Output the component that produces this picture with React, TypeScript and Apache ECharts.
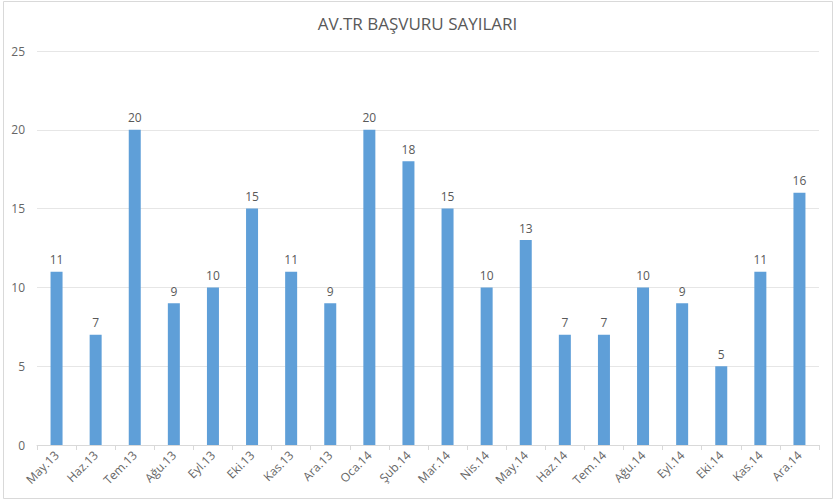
import React, { useEffect, useRef } from "react";
import * as echarts from "echarts";

const categories = [
  "May.13", "Haz.13", "Tem.13", "Ağu.13", "Eyl.13", "Eki.13", "Kas.13", "Ara.13",
  "Oca.14", "Şub.14", "Mar.14", "Nis.14", "May.14", "Haz.14", "Tem.14", "Ağu.14",
  "Eyl.14", "Eki.14", "Kas.14", "Ara.14",
];
const values = [11, 7, 20, 9, 10, 15, 11, 9, 20, 18, 15, 10, 13, 7, 7, 10, 9, 5, 11, 16];
const titleText = "AV.TR BAŞVURU SAYILARI";

const FONT = "'Open Sans', 'DejaVu Sans', sans-serif";

export default function App() {
  const ref = useRef<HTMLDivElement>(null);
  useEffect(() => {
    if (!ref.current) return;
    const chart = echarts.init(ref.current, undefined, { renderer: "svg" });
    chart.setOption({
      animation: false,
      backgroundColor: "#ffffff",
      title: {
        text: titleText,
        left: "center",
        top: 10,
        textStyle: { fontFamily: FONT, fontSize: 17, fontWeight: "normal", color: "#595959" },
      },
      graphic: [
        {
          type: "rect",
          shape: { x: 3.5, y: 1.5, width: 829, height: 497 },
          style: { fill: "none", stroke: "#d9d9d9", lineWidth: 1 },
          silent: true,
        },
      ],
      grid: { left: 37, right: 16, top: 51, bottom: 59, containLabel: false },
      xAxis: {
        type: "category",
        data: categories,
        axisLine: { lineStyle: { color: "#d9d9d9" } },
        axisTick: { show: true, alignWithLabel: false, length: 5, lineStyle: { color: "#d9d9d9" } },
        axisLabel: { rotate: 45, color: "#666666", fontFamily: FONT, fontSize: 12, margin: 8, interval: 0 },
      },
      yAxis: {
        type: "value",
        min: 0,
        max: 25,
        interval: 5,
        axisLine: { show: false },
        axisTick: { show: false },
        axisLabel: { color: "#666666", fontFamily: FONT, fontSize: 12, margin: 12 },
        splitLine: { lineStyle: { color: "#e6e6e6" } },
      },
      series: [
        {
          type: "bar",
          data: values,
          barWidth: 12,
          itemStyle: { color: "#5f9fd8" },
          label: {
            show: true,
            position: "top",
            distance: 6,
            color: "#595959",
            fontFamily: FONT,
            fontSize: 12,
          },
        },
      ],
    });
    return () => chart.dispose();
  }, []);
  return <div ref={ref} style={{ position: "fixed", left: 0, top: 0, width: 835, height: 504 }} />;
}
